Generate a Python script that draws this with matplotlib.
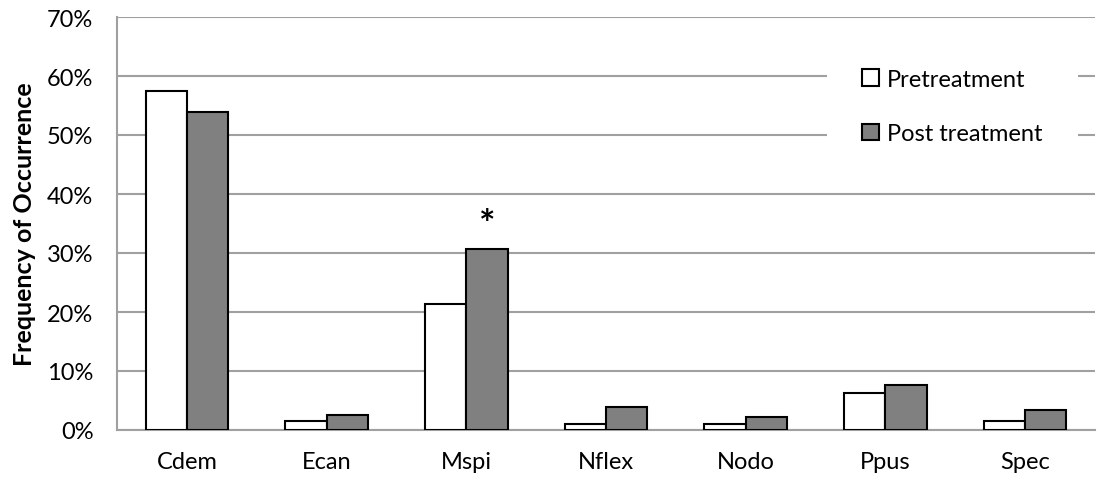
import matplotlib
matplotlib.use('Agg')
import matplotlib.pyplot as plt
import numpy as np

plt.rcParams['font.family'] = ['Lato', 'DejaVu Sans']

# frequency of occurrence (%) per species code
species = ['Cdem', 'Ecan', 'Mspi', 'Nflex', 'Nodo', 'Ppus', 'Spec']
pretreatment = [57.5, 1.5, 21.4, 1.0, 1.0, 6.2, 1.5]
post_treatment = [53.9, 2.6, 30.6, 3.9, 2.2, 7.6, 3.4]
significant = ['Mspi']

fig = plt.figure(figsize=(11.1, 4.81), dpi=100)
ax = fig.add_axes([117 / 1110, 1 - 431 / 481, (1095 - 117) / 1110, (431 - 18) / 481])

x = np.arange(len(species))
w = 0.295
ax.bar(x - w / 2, pretreatment, w, color='white', edgecolor='black',
       linewidth=1.5, label='Pretreatment', zorder=3)
ax.bar(x + w / 2, post_treatment, w, color='#808080', edgecolor='black',
       linewidth=1.5, label='Post treatment', zorder=3)

# mark species with a significant change
for name in significant:
    i = species.index(name)
    ax.text(i + w / 2, post_treatment[i] + 4.2, '*', ha='center', va='center',
            fontsize=28, fontweight='bold')

ax.set_xlim(-0.5, len(species) - 0.5)
ax.set_ylim(0, 70)
ax.set_yticks(np.arange(0, 71, 10))
ax.set_yticklabels([f'{v}%' for v in range(0, 71, 10)])
ax.set_xticks(x)
ax.set_xticklabels(species)
ax.tick_params(axis='both', length=0, labelsize=17, colors='black')
ax.tick_params(axis='y', pad=17)
ax.tick_params(axis='x', pad=15)
ax.set_ylabel('Frequency of Occurrence', fontsize=18, fontweight='bold')
ax.yaxis.set_label_coords(-0.083, 0.5)

ax.grid(axis='y', color='#a0a0a0', linewidth=1.5, zorder=0)
ax.set_axisbelow(True)
for side in ['top', 'right']:
    ax.spines[side].set_visible(False)
for side in ['left', 'bottom']:
    ax.spines[side].set_color('#a0a0a0')
    ax.spines[side].set_linewidth(1.5)

leg = ax.legend(loc='upper left', bbox_to_anchor=((827 - 117) / 978, 0.961),
                fontsize=17, frameon=True, fancybox=False, framealpha=1,
                edgecolor='white', handlelength=0.7, handleheight=0.7,
                handletextpad=0.35, labelspacing=1.43, borderpad=1.5,
                borderaxespad=0)
leg.get_frame().set_linewidth(0)
leg.set_zorder(5)

fig.savefig('out.png', dpi=100)
